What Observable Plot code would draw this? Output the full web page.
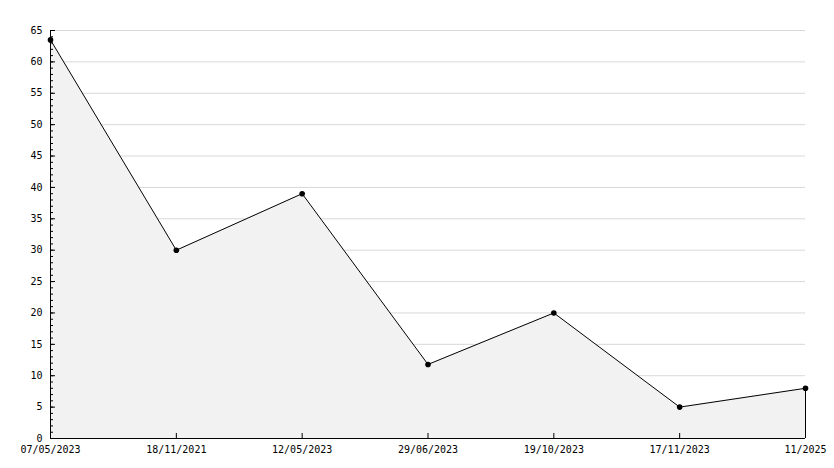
<!DOCTYPE html>
<html>
<head>
<meta charset="utf-8">
<script src="https://cdn.jsdelivr.net/npm/d3@7"></script>
<script src="https://cdn.jsdelivr.net/npm/@observablehq/plot@0.6"></script>
<style>
  html, body { margin: 0; padding: 0; background: #fff; }
</style>
</head>
<body>
<div id="chart"></div>
<script>
const dates = ["07/05/2023", "18/11/2021", "12/05/2023", "29/06/2023", "19/10/2023", "17/11/2023", "11/2025"];
const values = [63.5, 30, 39, 11.8, 20, 5, 8];
const majorTicks = d3.range(0, 66, 5);
const minorTicks = d3.range(0, 66, 1);

const data = dates.map((d, i) => ({date: d, value: values[i]}));

const chart = Plot.plot({
  width: 834,
  height: 468,
  marginLeft: 50,
  marginRight: 29,
  marginTop: 30,
  marginBottom: 30,
  style: {fontFamily: "'DejaVu Sans Mono', monospace", fontSize: "10px", color: "#000", background: "#fff"},
  x: {type: "point", domain: dates, padding: 0, round: false},
  y: {domain: [0, 65]},
  marks: [
    Plot.ruleY(majorTicks.filter(d => d > 0), {stroke: "#d9d9d9", strokeWidth: 1}),
    Plot.areaY(data, {x: "date", y: "value", fill: "#f2f2f2", curve: "linear"}),
    Plot.ruleX([dates[dates.length - 1]], {y1: 0, y2: values[values.length - 1], stroke: "#000", strokeWidth: 1}),
    Plot.lineY(data, {x: "date", y: "value", stroke: "#000", strokeWidth: 1}),
    Plot.dot(data, {x: "date", y: "value", r: 2.8, fill: "#000", stroke: "none"}),
    Plot.axisY({ticks: minorTicks, tickSize: -3, text: null, label: null}),
    Plot.axisY({ticks: majorTicks, tickSize: -5, text: null, label: null}),
    Plot.axisY({ticks: majorTicks, tickSize: 0, tickPadding: 8, label: null, fill: "#000"}),
    Plot.axisX({tickSize: -5, text: null, label: null}),
    Plot.axisX({tickSize: 0, tickPadding: 7, label: null, fill: "#000"}),
    Plot.ruleX([0], {x: () => dates[0], y1: 0, y2: 65, stroke: "#000"}),
    Plot.ruleY([0], {stroke: "#000"})
  ]
});
document.getElementById("chart").appendChild(chart);
</script>
</body>
</html>
